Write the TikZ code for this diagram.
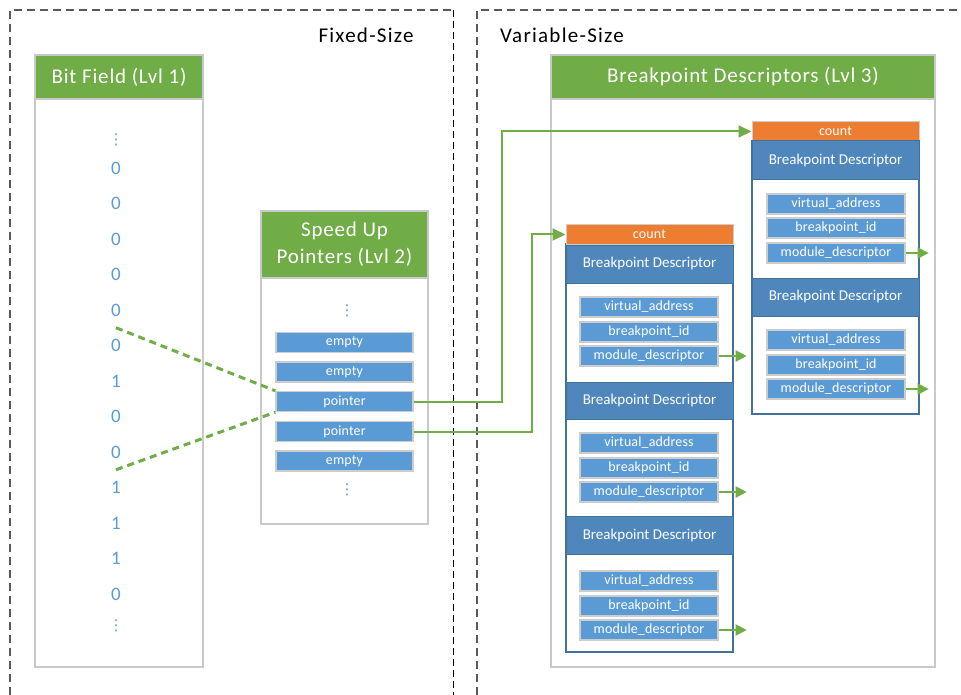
\documentclass[tikz,border=0pt]{standalone}
\usepackage{fontspec}
\setmainfont{Carlito}
\newfontfamily\dotsfont{DejaVu Sans}
\usetikzlibrary{arrows.meta,calc}

\definecolor{hdrgreen}{HTML}{70AD47}
\definecolor{boxgray}{HTML}{C9C9C9}
\definecolor{cellgray}{HTML}{CDCDCD}
\definecolor{cellblue}{HTML}{5B9BD5}
\definecolor{bitblue}{HTML}{5B9BD5}
\definecolor{bdblue}{HTML}{4F87BD}
\definecolor{bdline}{HTML}{41719C}
\definecolor{cntorange}{HTML}{ED7D31}
\definecolor{panelgray}{HTML}{595959}

\tikzset{
  box/.style={draw=boxgray, line width=1.3pt, fill=white, inner sep=0pt},
  ghdr/.style={draw=boxgray, line width=1.3pt, fill=hdrgreen, text=white, inner sep=0pt,
    font=\fontsize{21}{27}\selectfont\addfontfeatures{LetterSpace=4}, align=center},
  bit/.style={text=bitblue, font=\fontsize{19}{19}\selectfont, inner sep=0pt},
  vdot/.style={text=bitblue, font=\dotsfont\fontsize{15}{15}\selectfont, inner sep=0pt},
  cell/.style={draw=cellgray, line width=1.4pt, fill=cellblue, text=white, inner sep=0pt,
    minimum width=138pt, minimum height=20pt, font=\fontsize{14}{14}\selectfont\addfontfeatures{LetterSpace=1}},
  spucell/.style={cell, minimum width=137pt},
  bdhdr/.style={draw=bdline, line width=1pt, fill=bdblue, text=white, inner sep=0pt,
    minimum width=167pt, font=\fontsize{15}{15}\selectfont},
  countbar/.style={draw=cellgray, line width=1pt, fill=cntorange, text=white, inner sep=0pt,
    minimum width=167pt, minimum height=19pt, font=\fontsize{14}{14}\selectfont\addfontfeatures{LetterSpace=1}},
  stackbox/.style={draw=bdline, line width=1.2pt, fill=white, inner sep=0pt, minimum width=167pt},
  conn/.style={draw=hdrgreen, line width=2pt, -{Triangle[length=13pt,width=12pt]}},
  shortconn/.style={draw=hdrgreen, line width=2pt, -{Triangle[length=11pt,width=11pt]}},
  link/.style={draw=hdrgreen, line width=3pt, dash pattern=on 7pt off 5pt},
  panel/.style={draw=panelgray, line width=1.5pt, dash pattern=on 8pt off 5pt},
  divider/.style={draw=black, line width=0.9pt, dash pattern=on 7pt off 4pt},
  paneltitle/.style={font=\fontsize{21}{21}\selectfont\addfontfeatures{LetterSpace=6}, inner sep=0pt},
}

\begin{document}
\begin{tikzpicture}[x=1pt,y=-1pt]
\useasboundingbox (0,0) rectangle (961,695);

% dashed panels
\draw[panel] (10,695) -- (10,10) -- (453,10);
\draw[divider] (453,10) -- (453,695);
\draw[panel] (477,695) -- (477,10) -- (961,10);
\node[paneltitle] (fixedlbl) at (366,35) {Fixed-Size};
\node[paneltitle] (varlbl) at (562,35) {Variable-Size};

% level 1: bit field
\node[box, minimum width=168pt, minimum height=612pt] (bitbox) at (119,361) {};
\node[ghdr, minimum width=168pt, minimum height=44pt] (bithdr) at (119,77) {Bit Field (Lvl 1)};
\node[vdot] (bittop) at (116,140) {⋮};
\foreach \v [count=\i] in {0,0,0,0,0,0,1,0,0,1,1,1,0} {
  \node[bit] (b\i) at (116,{168+35.5*(\i-1)}) {\v};
}
\node[vdot] (bitbot) at (116,626) {⋮};

% level 2: speed up pointers
\node[box, minimum width=167pt, minimum height=313pt] (spubox) at (344.5,367.5) {};
\node[ghdr, minimum width=167pt, minimum height=67pt] (spuhdr) at (344.5,244.5) {Speed Up\\Pointers (Lvl 2)};
\node[vdot] (sputop) at (347,311) {⋮};
\node[spucell] (p1) at (344.5,342.5) {empty};
\node[spucell] (p2) at (344.5,372) {empty};
\node[spucell] (p3) at (344.5,401.5) {pointer};
\node[spucell] (p4) at (344.5,431.5) {pointer};
\node[spucell] (p5) at (344.5,461) {empty};
\node[vdot] (spubot) at (347,490) {⋮};

% bit ranges covered by a pointer
\coordinate (gapa) at ($(b5)!0.5!(b6)$);
\coordinate (gapb) at ($(b9)!0.5!(b10)$);
\draw[link] (gapa) -- (p3.north west);
\draw[link] (gapb) -- (p3.south west);

% level 3: breakpoint descriptors
\node[box, minimum width=384pt, minimum height=612pt] (l3box) at (743,361) {};
\node[ghdr, minimum width=384pt, minimum height=44pt] (l3hdr) at (743,77) {Breakpoint Descriptors (Lvl 3)};

% left descriptor array
\node[stackbox, minimum height=408pt] (lstack) at (649.5,448) {};
\node[countbar] (lcount) at (649.5,234.5) {count};
\node[bdhdr, minimum height=38pt] (lh1) at (649.5,264) {Breakpoint Descriptor};
\node[cell] (l1va) at (649,307) {virtual\_address};
\node[cell] (l1id) at (649,332) {breakpoint\_id};
\node[cell] (l1md) at (649,356) {module\_descriptor};
\node[bdhdr, minimum height=37pt] (lh2) at (649.5,400.5) {Breakpoint Descriptor};
\node[cell] (l2va) at (649,443) {virtual\_address};
\node[cell] (l2id) at (649,468) {breakpoint\_id};
\node[cell] (l2md) at (649,492) {module\_descriptor};
\node[bdhdr, minimum height=38pt] (lh3) at (649.5,535) {Breakpoint Descriptor};
\node[cell] (l3va) at (649,581) {virtual\_address};
\node[cell] (l3id) at (649,606) {breakpoint\_id};
\node[cell] (l3md) at (649,630) {module\_descriptor};

% right descriptor array
\node[stackbox, minimum height=273pt] (rstack) at (835.5,277.5) {};
\node[countbar] (rcount) at (835.5,131.5) {count};
\node[bdhdr, minimum height=39pt] (rh1) at (835.5,160.5) {Breakpoint Descriptor};
\node[cell] (r1va) at (836,204) {virtual\_address};
\node[cell] (r1id) at (836,228) {breakpoint\_id};
\node[cell] (r1md) at (836,253) {module\_descriptor};
\node[bdhdr, minimum height=38pt] (rh2) at (835.5,297) {Breakpoint Descriptor};
\node[cell] (r2va) at (836,340) {virtual\_address};
\node[cell] (r2id) at (836,365) {breakpoint\_id};
\node[cell] (r2md) at (836,389) {module\_descriptor};

% module descriptor references
\draw[shortconn] (l1md.east) -- ++(28,0);
\draw[shortconn] (l2md.east) -- ++(28,0);
\draw[shortconn] (l3md.east) -- ++(28,0);
\draw[shortconn] (r1md.east) -- ++(23,0);
\draw[shortconn] (r2md.east) -- ++(23,0);

% pointers into the descriptor arrays
\draw[conn] (p3.east) -- ++(88,0) |- (rcount.west);
\draw[conn] (p4.east) -- ++(118,0) |- (lcount.west);
\end{tikzpicture}
\end{document}
